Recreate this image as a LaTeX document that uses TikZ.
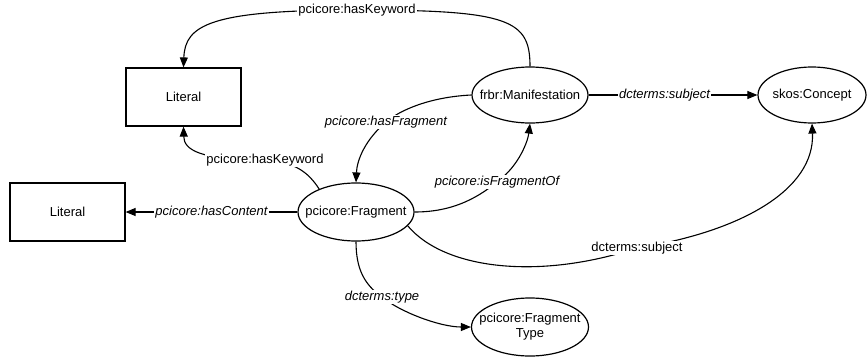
\documentclass[tikz,border=0pt]{standalone}
\usepackage{fontspec}
\setmainfont{Liberation Sans}
\usepackage{tikz}
\usetikzlibrary{shapes.geometric,arrows.meta}

\begin{document}
\begin{tikzpicture}[x=1pt, y=-1pt,
    every node/.style={font=\fontsize{13}{15}\selectfont},
    cls/.style={draw, ellipse, line width=1.2pt, minimum width=116pt, minimum height=56pt, inner sep=0pt, align=center},
    lit/.style={draw, rectangle, line width=1.2pt, minimum width=115pt, minimum height=58pt},
    edge/.style={line width=1.1pt},
    arr/.style={edge, -{Triangle[length=10pt,width=8pt]}},
    lbl/.style={fill=white, inner sep=1pt},
    ilbl/.style={lbl, font=\fontsize{13}{15}\selectfont\itshape}]
    \useasboundingbox (0,0) rectangle (867,356);

    % Classes and literals
    \node[lit] (lit1) at (183.5,97) {Literal};
    \node[lit] (lit2) at (67.5,212) {Literal};
    \node[cls] (man) at (530,95) {\makebox[0pt]{frbr:Manifestation}};
    \node[cls, minimum width=108pt] (con) at (812,95) {\makebox[0pt]{skos:Concept}};
    \node[cls, minimum height=58pt] (frag) at (356,212) {\makebox[0pt]{pcicore:Fragment}};
    \node[cls, minimum width=117pt, minimum height=58pt] (ftype) at (530,327)
        {\makebox[0pt]{pcicore:Fragment}\\\makebox[0pt]{Type}};

    % Properties of the manifestation
    \draw[arr] (man.north) .. controls (530,20) and (510,10) .. (357,10) node[lbl] (kwtop) {pcicore:hasKeyword}
        .. controls (210,10) and (185,25) .. (lit1.north);
    \draw[arr] (man.west) .. controls (430,97) and (400,110) .. (386,122) node[ilbl] (hasfrag) {pcicore:hasFragment}
        .. controls (365,140) and (357,160) .. (frag.north);
    \draw[arr] (man.east) -- node[ilbl, pos=0.45] (subjtop) {dcterms:subject} (con.west);

    % Properties of the fragment
    \draw[arr] (frag.148) .. controls (308,172) and (295,162) .. (265,160) node[lbl] (kwlow) {pcicore:hasKeyword}
        .. controls (200,160) and (184,150) .. (lit1.south);
    \draw[arr] (frag.west) -- node[ilbl] (content) {pcicore:hasContent} (lit2.east);
    \draw[arr] (frag.east) .. controls (450,212) and (475,200) .. (497,182) node[ilbl] (fragof) {pcicore:isFragmentOf}
        .. controls (520,165) and (528,140) .. (man.south);
    \draw[arr] (frag.-15) .. controls (445,270) and (540,280) .. (637,248) node[lbl] (subjlow) {dcterms:subject}
        .. controls (740,232) and (815,190) .. (con.south);
    \draw[arr] (frag.south) .. controls (356,270) and (365,285) .. (382,297) node[ilbl] (type) {dcterms:type}
        .. controls (400,312) and (440,327) .. (ftype.west);
\end{tikzpicture}
\end{document}
